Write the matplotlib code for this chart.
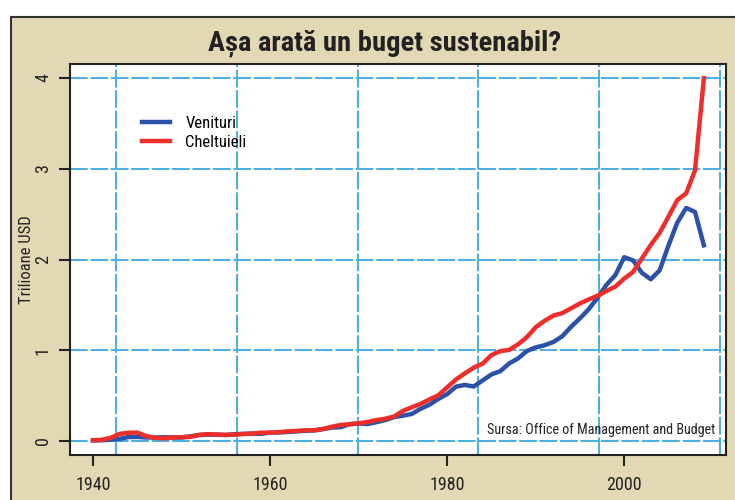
import matplotlib
matplotlib.use("Agg")
import matplotlib.pyplot as plt
from matplotlib.patches import Rectangle
import numpy as np

# US federal budget, trillions USD
years = list(range(1940, 2010))
venituri = [0.0065, 0.0087, 0.0146, 0.024, 0.0437, 0.0452, 0.0393, 0.0385, 0.0416, 0.0394,
            0.0394, 0.0516, 0.0662, 0.0696, 0.0697, 0.0655, 0.0746, 0.080, 0.0796, 0.0792,
            0.0925, 0.0944, 0.0997, 0.1066, 0.1126, 0.1168, 0.1308, 0.1488, 0.153, 0.1869,
            0.1928, 0.1871, 0.2073, 0.2308, 0.2632, 0.2791, 0.2981, 0.3556, 0.3996, 0.4633,
            0.5171, 0.5993, 0.6178, 0.6006, 0.6664, 0.734, 0.7692, 0.8543, 0.9092, 0.9911,
            1.032, 1.055, 1.0912, 1.1543, 1.2586, 1.3518, 1.4531, 1.5792, 1.7217, 1.8275,
            2.0252, 1.9911, 1.8531, 1.7823, 1.8801, 2.1536, 2.4069, 2.568, 2.524, 2.1567]
cheltuieli = [0.0095, 0.0137, 0.0351, 0.0786, 0.0913, 0.0927, 0.0552, 0.0345, 0.0298, 0.0388,
              0.0426, 0.0455, 0.0677, 0.0761, 0.0709, 0.0684, 0.0706, 0.0766, 0.0824, 0.0921,
              0.0922, 0.0977, 0.1068, 0.1113, 0.1185, 0.1182, 0.1345, 0.1575, 0.1781, 0.1836,
              0.1956, 0.2102, 0.2307, 0.2457, 0.2694, 0.3323, 0.3718, 0.4092, 0.4587, 0.504,
              0.5909, 0.6782, 0.7457, 0.8084, 0.8518, 0.9463, 0.9904, 1.004, 1.0644, 1.1437,
              1.253, 1.3242, 1.3815, 1.4094, 1.4618, 1.5157, 1.5605, 1.6011, 1.6525, 1.7018,
              1.789, 1.8628, 2.0109, 2.1599, 2.2928, 2.472, 2.6551, 2.7287, 2.9825, 3.9978]
x_ticks = [1940, 1960, 1980, 2000]
y_ticks = [0, 1, 2, 3, 4]

plt.rcParams['font.family'] = ['Liberation Sans Narrow', 'Roboto Condensed', 'DejaVu Sans Condensed',
                               'Liberation Sans', 'DejaVu Sans']

fig = plt.figure(figsize=(7.35, 5), dpi=100)
fig.patch.set_facecolor('white')
beige = '#e2d8b4'
fig.patches.append(Rectangle((11 / 735, -0.05), 1.05, 1 - 17 / 500 + 0.05, transform=fig.transFigure,
                             facecolor=beige, edgecolor='#333333', linewidth=1.5, zorder=-10))

ax = fig.add_axes([70 / 735, 1 - 455 / 500, (726 - 70) / 735, (455 - 64) / 500])
ax.set_facecolor('white')

grid_col = '#4fb0e0'
for gx in np.linspace(1942.6, 2010.8, 6):
    ax.axvline(gx, color=grid_col, lw=1.5, dashes=(8.5, 1.3), zorder=1)
for gy in y_ticks:
    ax.axhline(gy, color=grid_col, lw=1.5, dashes=(8.5, 1.3), zorder=1)

ax.plot(years, venituri, color='#2b52a8', lw=3.2, label='Venituri', zorder=3)
ax.plot(years, cheltuieli, color='#ee2e2a', lw=3.2, label='Cheltuieli', zorder=4)

ax.set_xlim(1937.4, 2011.5)
ax.set_ylim(-0.154, 4.154)
ax.set_xticks(x_ticks)
ax.set_yticks(y_ticks)
ax.tick_params(axis='both', direction='out', length=8, width=1.5, colors='#222222', labelsize=13)
ax.tick_params(axis='x', pad=7)
ax.tick_params(axis='y', pad=5)
for lab in ax.get_yticklabels():
    lab.set_rotation(90)
    lab.set_va('center')
for s in ax.spines.values():
    s.set_linewidth(1.5)
    s.set_color('#222222')

ax.set_ylabel('Trilioane USD', fontsize=12, color='#222222', labelpad=0)

leg = ax.legend(loc='upper left', bbox_to_anchor=(0.087, 0.905), frameon=False, fontsize=12,
                handlelength=1.7, handletextpad=0.9, labelspacing=0.25)

ax.text(0.983, 0.045, 'Sursa: Office of Management and Budget', transform=ax.transAxes,
        ha='right', va='bottom', fontsize=10.2, color='#222222', zorder=5)

fig.text(385 / 735, 1 - 43 / 500, 'Așa arată un buget sustenabil?', ha='center', va='center',
         fontsize=20.5, fontweight='bold', color='#222222')

fig.savefig('out.png', dpi=100, facecolor=fig.get_facecolor())
